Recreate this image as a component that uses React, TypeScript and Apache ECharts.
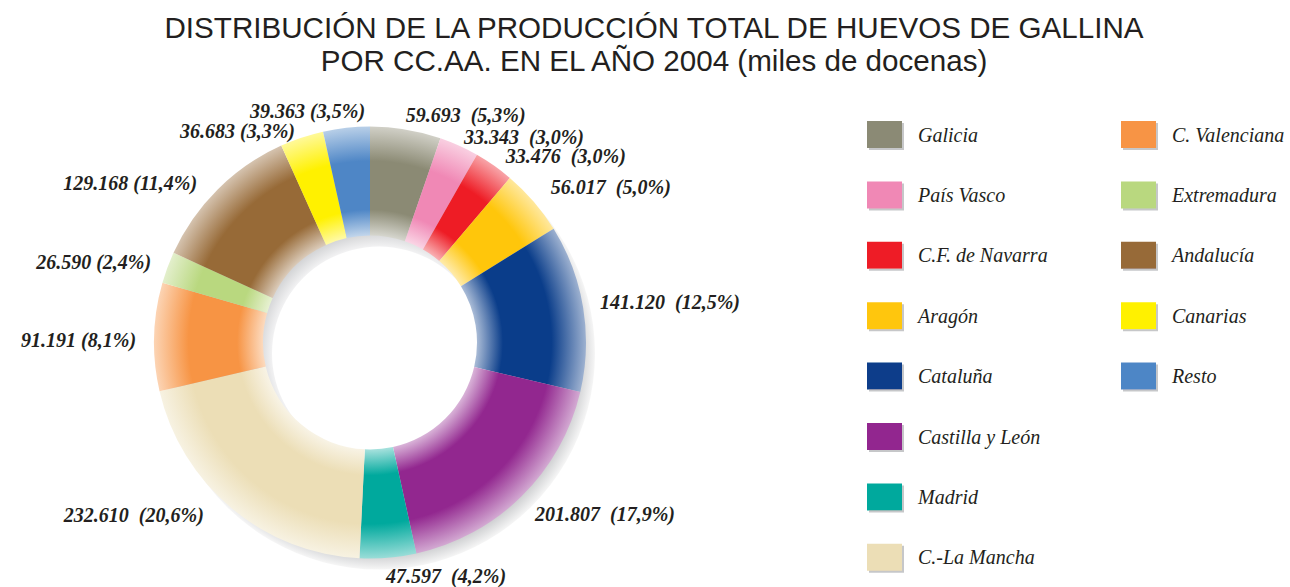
import React, { useEffect, useRef } from "react";
import * as echarts from "echarts";

const titleLines = [
  "DISTRIBUCIÓN DE LA PRODUCCIÓN TOTAL DE HUEVOS DE GALLINA",
  "POR CC.AA. EN EL AÑO 2004 (miles de docenas)",
];

const regions = [
  "Galicia",
  "País Vasco",
  "C.F. de Navarra",
  "Aragón",
  "Cataluña",
  "Castilla y León",
  "Madrid",
  "C.-La Mancha",
  "C. Valenciana",
  "Extremadura",
  "Andalucía",
  "Canarias",
  "Resto",
];

const values = [59693, 33343, 33476, 56017, 141120, 201807, 47597, 232610, 91191, 26590, 129168, 36683, 39363];

// regions whose label in the reference uses a single space before the percentage
const singleSpaceLabels = ["C. Valenciana", "Extremadura", "Andalucía", "Canarias", "Resto"];

const colors = [
  "#8b8a74",
  "#f088b5",
  "#ee1c25",
  "#ffc60b",
  "#0a3d8a",
  "#92278f",
  "#00a99d",
  "#ecdeb6",
  "#f79444",
  "#b9d87f",
  "#976a37",
  "#fff100",
  "#4e86c6",
];

// small label nudges (layout only) [dx, dy]
const labelNudges: [number, number][] = [
  [-7, -3],
  [-5, 2],
  [0, 0],
  [3, -7],
  [0, -4],
  [0, 9],
  [-8, 6],
  [-15, -2],
  [-1, 4],
  [0, -1],
  [-7, 2],
  [2, 5],
  [25, -5],
];

const CX = 370;
const CY = 342.5;
const R_OUT = 216;
const R_IN = 107;

function mix(hex: string, t: number): string {
  const n = parseInt(hex.slice(1), 16);
  const r = (n >> 16) & 255, g = (n >> 8) & 255, b = n & 255;
  const f = (c: number) => Math.round(c + (255 - c) * t);
  return `rgb(${f(r)},${f(g)},${f(b)})`;
}

function fmtNum(v: number): string {
  return v.toString().replace(/\B(?=(\d{3})+(?!\d))/g, ".");
}

function sliceGradient(c: string) {
  const inner = R_IN / R_OUT;
  return {
    type: "radial",
    x: CX,
    y: CY,
    r: R_OUT,
    global: true,
    colorStops: [
      { offset: 0, color: mix(c, 0.65) },
      { offset: inner, color: mix(c, 0.65) },
      { offset: inner + 0.12, color: c },
      { offset: 0.84, color: c },
      { offset: 1, color: mix(c, 0.6) },
    ],
  };
}

export default function App() {
  const ref = useRef<HTMLDivElement>(null);
  useEffect(() => {
    if (!ref.current) return;
    const chart = echarts.init(ref.current, null, { renderer: "svg" });
    const total = values.reduce((a, b) => a + b, 0);
    const data = regions.map((name, i) => ({
      name,
      value: values[i],
      itemStyle: { color: sliceGradient(colors[i]) },
    }));
    const legendItem = (i: number) => ({ name: regions[i], itemStyle: { color: colors[i] } });
    const legendCommon = {
      orient: "vertical",
      top: 121,
      padding: 0,
      itemWidth: 35,
      itemHeight: 27,
      itemGap: 33.4,
      selectedMode: false,
      icon: "rect",
      itemStyle: { shadowColor: "#c6c7c9", shadowOffsetX: 2, shadowOffsetY: 2, shadowBlur: 0 },
      textStyle: {
        fontFamily: "Liberation Serif",
        fontStyle: "italic",
        fontSize: 20,
        color: "#231f20",
        padding: [0, 0, 0, 11],
      },
    };
    const shCX = CX + 9;
    const shCY = CY + 11;
    chart.setOption({
      animation: false,
      backgroundColor: "#ffffff",
      graphic: titleLines.map((t, i) => ({
        type: "text",
        x: 654,
        y: 27 + i * 33,
        style: {
          text: t,
          textAlign: "center",
          textVerticalAlign: "middle",
          font: "29.6px 'Liberation Sans'",
          fill: "#231f20",
        },
      })),
      legend: [
        { ...legendCommon, left: 867, data: [0, 1, 2, 3, 4, 5, 6, 7].map(legendItem) },
        { ...legendCommon, left: 1121, data: [8, 9, 10, 11, 12].map(legendItem) },
      ],
      series: [
        {
          type: "pie",
          silent: true,
          z: 1,
          center: [shCX, shCY],
          radius: [R_IN, R_OUT],
          label: { show: false },
          labelLine: { show: false },
          data: [
            {
              value: 1,
              name: "_shadow",
              itemStyle: {
                color: {
                  type: "radial",
                  x: shCX,
                  y: shCY,
                  r: R_OUT,
                  global: true,
                  colorStops: [
                    { offset: 0, color: "#ffffff" },
                    { offset: R_IN / R_OUT, color: "#f2f2f3" },
                    { offset: R_IN / R_OUT + 0.08, color: "#cdced0" },
                    { offset: 0.93, color: "#cdced0" },
                    { offset: 1, color: "#f6f6f6" },
                  ],
                },
              },
            },
          ],
        },
        {
          type: "pie",
          z: 2,
          center: [CX, CY],
          radius: [R_IN, R_OUT],
          startAngle: 90,
          clockwise: true,
          avoidLabelOverlap: false,
          labelLayout: (p: any) => {
            const n = labelNudges[p.dataIndex] || [0, 0];
            return { dx: n[0], dy: n[1], hideOverlap: false };
          },
          label: {
            show: true,
            position: "outside",
            fontFamily: "Liberation Serif",
            fontStyle: "italic",
            fontWeight: "bold",
            fontSize: 20,
            lineHeight: 18,
            color: "#231f20",
            formatter: (p: any) => {
              const pct = ((p.value / total) * 100).toFixed(1).replace(".", ",");
              const sep = singleSpaceLabels.includes(p.name) ? " " : "  ";
              return `${fmtNum(p.value)}${sep}(${pct}%)`;
            },
          },
          labelLine: { show: false, length: 12, length2: 0 },
          itemStyle: { borderWidth: 0 },
          data,
        },
      ],
    });
    return () => chart.dispose();
  }, []);
  return (
    <div
      ref={ref}
      style={{ position: "fixed", left: 0, top: 0, width: 1290, height: 587, background: "#fff" }}
    />
  );
}
